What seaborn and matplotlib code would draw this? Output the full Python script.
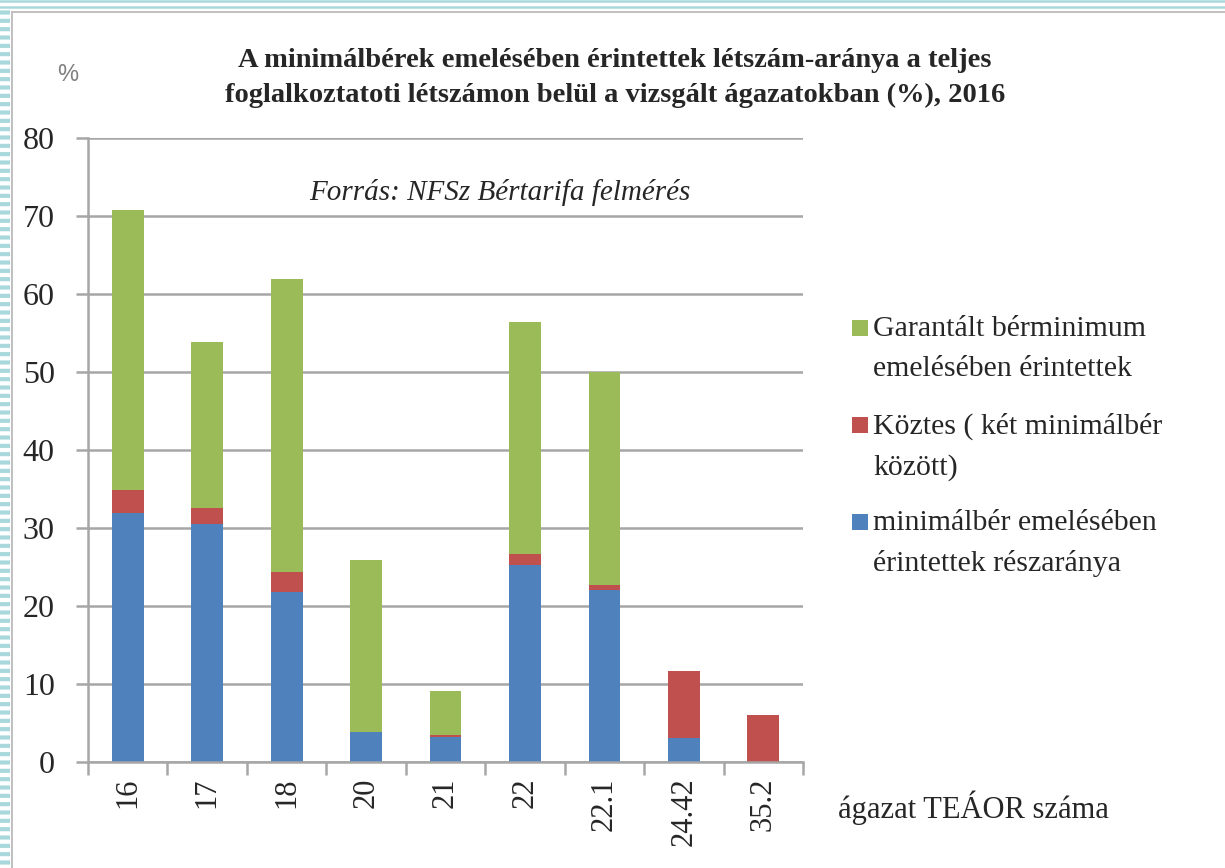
import numpy as np
import pandas as pd
import matplotlib
matplotlib.use("Agg")
from matplotlib import pyplot as plt
from matplotlib.patches import Rectangle
from matplotlib.lines import Line2D
import seaborn as sns

# values (%)
sectors = ["16", "17", "18", "20", "21", "22", "22.1", "24.42", "35.2"]
minimum_wage = [31.9, 30.5, 21.8, 3.9, 3.2, 25.3, 22.0, 3.1, 0.0]
between_two = [3.0, 2.1, 2.5, 0.0, 0.2, 1.4, 0.7, 8.6, 6.0]
guaranteed = [35.9, 21.2, 37.6, 22.0, 5.7, 29.7, 27.3, 0.0, 0.0]

series_labels = [
    "Garantált bérminimum\nemelésében érintettek",
    "Köztes ( két minimálbér\nközött)",
    "minimálbér emelésében\nérintettek részaránya",
]
title = ("A minimálbérek emelésében érintettek létszám-aránya a teljes\n"
         "foglalkoztatoti létszámon belül a vizsgált ágazatokban (%), 2016")
source = "Forrás: NFSz Bértarifa felmérés"
xlabel = "ágazat TEÁOR száma"

BLUE, RED, GREEN = "#4F81BD", "#C0504D", "#9BBB59"
GREY = "#a6a6a6"

df = pd.DataFrame({"sector": sectors, "blue": minimum_wage,
                   "red": between_two, "green": guaranteed})
df["blue_red"] = df["blue"] + df["red"]
df["total"] = df["blue_red"] + df["green"]

sns.set_theme(style="white")
plt.rcParams["font.family"] = ["Liberation Serif", "DejaVu Serif"]
plt.rcParams["hatch.linewidth"] = 3.0

W, H = 1225, 868
fig = plt.figure(figsize=(W / 100, H / 100), dpi=100)
ax = fig.add_axes([88 / W, 106 / H, 715 / W, 624 / H])

# stacked bars drawn as overlapping cumulative totals
for col, color in [("total", GREEN), ("blue_red", RED), ("blue", BLUE)]:
    sns.barplot(data=df, x="sector", y=col, order=sectors, color=color,
                saturation=1, width=0.4, errorbar=None, linewidth=0, ax=ax)

ax.set_xlim(-0.5, len(sectors) - 0.5)
ax.set_ylim(0, 80)
ax.set_yticks(range(0, 81, 10))
ax.set_xlabel("")
ax.set_ylabel("")
ax.yaxis.grid(True, color=GREY, linewidth=1.8)
ax.set_axisbelow(True)
sns.despine(ax=ax)
for side in ["left", "bottom"]:
    ax.spines[side].set_color(GREY)
    ax.spines[side].set_linewidth(1.8)

ax.set_xticks(np.arange(-0.5, len(sectors), 1), minor=True)
ax.tick_params(axis="x", which="minor", bottom=True, length=9, width=1.8,
               color=GREY, direction="out")
ax.tick_params(axis="x", which="major", bottom=False, length=0, pad=11,
               labelsize=22, labelrotation=90)
ax.tick_params(axis="y", left=True, length=9, width=1.8, color=GREY,
               direction="out", pad=15, labelsize=23)

ax.text(0.576, 0.913, source, transform=ax.transAxes, ha="center",
        va="center", fontsize=21, style="italic")

fig.text(0.502, 0.910, title, ha="center", va="center", fontsize=20.5,
         fontweight="bold", linespacing=1.55)
fig.text(68 / W, 1 - 75 / H, "%", ha="center", va="center", fontsize=17,
         color="#808080", family=["Liberation Sans"])
fig.text(838 / W, 1 - 808 / H, xlabel, ha="left", va="center", fontsize=22)

# legend: square beside the first line of each label
for i, (label, color) in enumerate(zip(series_labels, [GREEN, RED, BLUE])):
    yc = 328 + i * 97
    fig.add_artist(Rectangle((852 / W, 1 - (yc + 8) / H), 16 / W, 16 / H,
                             transform=fig.transFigure, facecolor=color,
                             edgecolor="none"))
    fig.text(873 / W, 1 - (yc - 12) / H, label, ha="left", va="top",
             fontsize=21.5, linespacing=1.68)

# page decoration: striped border and frame
fig.add_artist(Rectangle((0, 0), 10 / W, 1 - 10 / H, transform=fig.transFigure,
                         facecolor="white", edgecolor="#a9d8dc", hatch="--",
                         linewidth=0))
for y in (1, 7):
    fig.add_artist(Line2D([0, 1], [1 - y / H, 1 - y / H], color="#a9d8dc",
                          linewidth=1.8, transform=fig.transFigure))
fig.add_artist(Line2D([12 / W, 12 / W], [0, 1 - 12 / H], color="#b5b5b5",
                      linewidth=1.2, transform=fig.transFigure))
fig.add_artist(Line2D([12 / W, 1], [1 - 12 / H, 1 - 12 / H], color="#b5b5b5",
                      linewidth=1.2, transform=fig.transFigure))

fig.savefig("out.png", dpi=100)
